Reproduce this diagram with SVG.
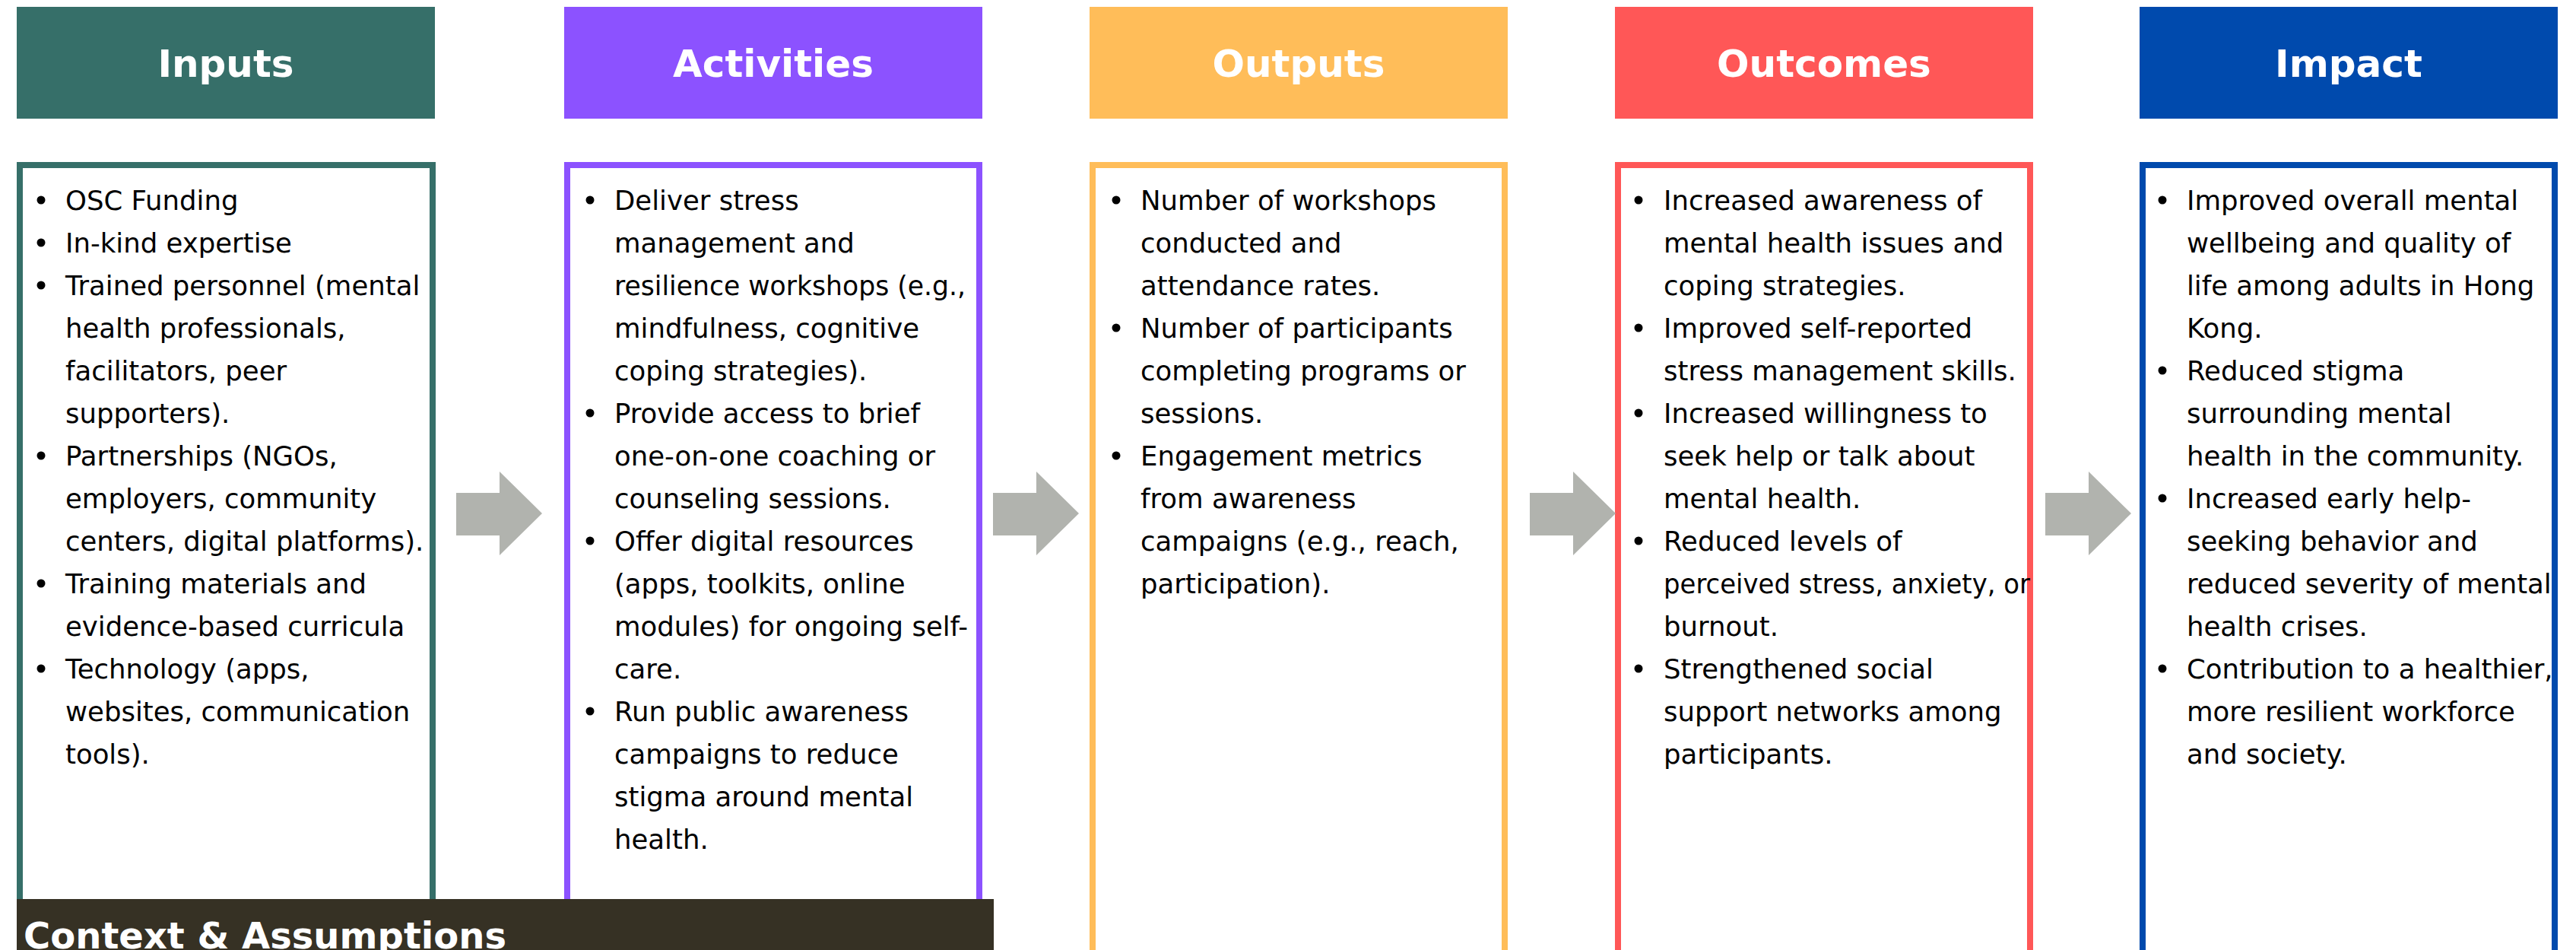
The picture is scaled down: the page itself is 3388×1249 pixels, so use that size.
<svg xmlns="http://www.w3.org/2000/svg" width="3388" height="1249" viewBox="0 0 3388 1249">
<style>
.hdr{font-family:"DejaVu Sans",sans-serif;font-weight:bold;font-size:50px;fill:#ffffff;text-anchor:middle}
.body{font-family:"DejaVu Sans",sans-serif;font-size:35.5px;fill:#000000}
.box{fill:#ffffff;stroke-width:8}
.arrow{fill:#b1b3ae}
.ctx{font-family:"DejaVu Sans",sans-serif;font-weight:bold;font-size:48px;fill:#ffffff}
</style>
<defs>
<circle id="dot" r="5.5" fill="#000000"/>
</defs>
<rect x="0" y="0" width="3388" height="1249" fill="#ffffff"/>

<g id="inputs">
<rect x="22" y="9" width="550" height="147" fill="#366f69"/>
<text class="hdr" x="297" y="101">Inputs</text>
<rect class="box" x="26" y="217" width="543" height="1036" stroke="#366f69"/>
<use href="#dot" x="54" y="263"/><use href="#dot" x="54" y="319"/><use href="#dot" x="54" y="375"/><use href="#dot" x="54" y="599"/><use href="#dot" x="54" y="767"/><use href="#dot" x="54" y="879"/>
<text class="body">
<tspan x="86" y="276">OSC Funding</tspan>
<tspan x="86" y="332">In-kind expertise</tspan>
<tspan x="86" y="388">Trained personnel (mental</tspan>
<tspan x="86" y="444">health professionals,</tspan>
<tspan x="86" y="500">facilitators, peer</tspan>
<tspan x="86" y="556">supporters).</tspan>
<tspan x="86" y="612">Partnerships (NGOs,</tspan>
<tspan x="86" y="668">employers, community</tspan>
<tspan x="86" y="724">centers, digital platforms).</tspan>
<tspan x="86" y="780">Training materials and</tspan>
<tspan x="86" y="836">evidence-based curricula</tspan>
<tspan x="86" y="892">Technology (apps,</tspan>
<tspan x="86" y="948">websites, communication</tspan>
<tspan x="86" y="1004">tools).</tspan>
</text>
</g>

<g id="activities">
<rect x="742" y="9" width="550" height="147" fill="#8c52ff"/>
<text class="hdr" x="1017" y="101">Activities</text>
<rect class="box" x="746" y="217" width="542" height="1036" stroke="#8c52ff"/>
<use href="#dot" x="776" y="263"/><use href="#dot" x="776" y="543"/><use href="#dot" x="776" y="711"/><use href="#dot" x="776" y="935"/>
<text class="body">
<tspan x="808" y="276">Deliver stress</tspan>
<tspan x="808" y="332">management and</tspan>
<tspan x="808" y="388" textLength="462" lengthAdjust="spacingAndGlyphs">resilience workshops (e.g.,</tspan>
<tspan x="808" y="444">mindfulness, cognitive</tspan>
<tspan x="808" y="500">coping strategies).</tspan>
<tspan x="808" y="556">Provide access to brief</tspan>
<tspan x="808" y="612">one-on-one coaching or</tspan>
<tspan x="808" y="668">counseling sessions.</tspan>
<tspan x="808" y="724">Offer digital resources</tspan>
<tspan x="808" y="780">(apps, toolkits, online</tspan>
<tspan x="808" y="836">modules) for ongoing self-</tspan>
<tspan x="808" y="892">care.</tspan>
<tspan x="808" y="948">Run public awareness</tspan>
<tspan x="808" y="1004">campaigns to reduce</tspan>
<tspan x="808" y="1060">stigma around mental</tspan>
<tspan x="808" y="1116">health.</tspan>
</text>
</g>

<g id="outputs">
<rect x="1433" y="9" width="550" height="147" fill="#ffbd59"/>
<text class="hdr" x="1708" y="101">Outputs</text>
<rect class="box" x="1437" y="217" width="542" height="1036" stroke="#ffbd59"/>
<use href="#dot" x="1468" y="263"/><use href="#dot" x="1468" y="431"/><use href="#dot" x="1468" y="599"/>
<text class="body">
<tspan x="1500" y="276">Number of workshops</tspan>
<tspan x="1500" y="332">conducted and</tspan>
<tspan x="1500" y="388">attendance rates.</tspan>
<tspan x="1500" y="444">Number of participants</tspan>
<tspan x="1500" y="500">completing programs or</tspan>
<tspan x="1500" y="556">sessions.</tspan>
<tspan x="1500" y="612">Engagement metrics</tspan>
<tspan x="1500" y="668">from awareness</tspan>
<tspan x="1500" y="724">campaigns (e.g., reach,</tspan>
<tspan x="1500" y="780">participation).</tspan>
</text>
</g>

<g id="outcomes">
<rect x="2124" y="9" width="550" height="147" fill="#ff5757"/>
<text class="hdr" x="2399" y="101">Outcomes</text>
<rect class="box" x="2128" y="217" width="542" height="1036" stroke="#ff5757"/>
<use href="#dot" x="2155" y="263"/><use href="#dot" x="2155" y="431"/><use href="#dot" x="2155" y="543"/><use href="#dot" x="2155" y="711"/><use href="#dot" x="2155" y="879"/>
<text class="body">
<tspan x="2188" y="276">Increased awareness of</tspan>
<tspan x="2188" y="332">mental health issues and</tspan>
<tspan x="2188" y="388">coping strategies.</tspan>
<tspan x="2188" y="444">Improved self-reported</tspan>
<tspan x="2188" y="500">stress management skills.</tspan>
<tspan x="2188" y="556">Increased willingness to</tspan>
<tspan x="2188" y="612">seek help or talk about</tspan>
<tspan x="2188" y="668">mental health.</tspan>
<tspan x="2188" y="724">Reduced levels of</tspan>
<tspan x="2188" y="780" textLength="482" lengthAdjust="spacingAndGlyphs">perceived stress, anxiety, or</tspan>
<tspan x="2188" y="836">burnout.</tspan>
<tspan x="2188" y="892">Strengthened social</tspan>
<tspan x="2188" y="948">support networks among</tspan>
<tspan x="2188" y="1004">participants.</tspan>
</text>
</g>

<g id="impact">
<rect x="2814" y="9" width="550" height="147" fill="#004aad"/>
<text class="hdr" x="3089" y="101">Impact</text>
<rect class="box" x="2818" y="217" width="542" height="1036" stroke="#004aad"/>
<use href="#dot" x="2844" y="263"/><use href="#dot" x="2844" y="487"/><use href="#dot" x="2844" y="655"/><use href="#dot" x="2844" y="879"/>
<text class="body">
<tspan x="2876" y="276">Improved overall mental</tspan>
<tspan x="2876" y="332">wellbeing and quality of</tspan>
<tspan x="2876" y="388">life among adults in Hong</tspan>
<tspan x="2876" y="444">Kong.</tspan>
<tspan x="2876" y="500">Reduced stigma</tspan>
<tspan x="2876" y="556">surrounding mental</tspan>
<tspan x="2876" y="612">health in the community.</tspan>
<tspan x="2876" y="668">Increased early help-</tspan>
<tspan x="2876" y="724">seeking behavior and</tspan>
<tspan x="2876" y="780">reduced severity of mental</tspan>
<tspan x="2876" y="836">health crises.</tspan>
<tspan x="2876" y="892">Contribution to a healthier,</tspan>
<tspan x="2876" y="948">more resilient workforce</tspan>
<tspan x="2876" y="1004">and society.</tspan>
</text>
</g>

<g id="connectors">
<polygon class="arrow" points="600,648 657,648 657,620 713,675 657,730 657,704 600,704"/>
<polygon class="arrow" points="1306,648 1363,648 1363,620 1419,675 1363,730 1363,704 1306,704"/>
<polygon class="arrow" points="2012,648 2069,648 2069,620 2125,675 2069,730 2069,704 2012,704"/>
<polygon class="arrow" points="2690,648 2747,648 2747,620 2803,675 2747,730 2747,704 2690,704"/>
</g>

<g id="context">
<rect x="22" y="1182" width="1285" height="67" fill="#363124"/>
<text class="ctx" x="31" y="1247">Context &amp; Assumptions</text>
</g>
</svg>
